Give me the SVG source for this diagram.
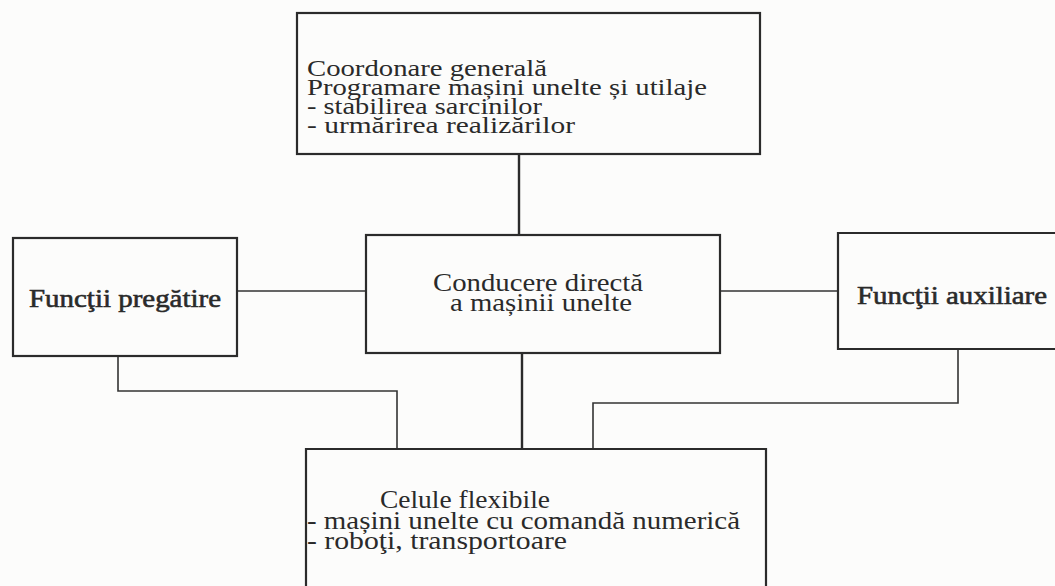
<svg xmlns="http://www.w3.org/2000/svg" width="1055" height="586" viewBox="0 0 1055 586">
  <style>
    .box { fill: none; stroke: #2b2b2b; stroke-width: 2.2; }
    .wire { fill: none; stroke: #333; stroke-width: 1.6; }
    .wire-strong { fill: none; stroke: #2b2b2b; stroke-width: 2.4; }
    text { font-family: "Liberation Serif", "Times New Roman", serif; font-size: 25px; fill: #2a2a2a; }
    .tight { font-size: 23px; }
    .heavy { font-size: 26px; stroke: #2a2a2a; stroke-width: 0.6; }
  </style>
  <rect width="1055" height="586" fill="#fcfcfb"/>

  <!-- connectors -->
  <g id="connectors">
    <path class="wire-strong" d="M519,154 V235"/>
    <path class="wire-strong" d="M522,353 V449"/>
    <path class="wire" d="M237,291 H366"/>
    <path class="wire" d="M720,291 H838"/>
    <path class="wire" d="M118,356 V391 H397 V449"/>
    <path class="wire" d="M958,349 V403 H593 V449"/>
  </g>

  <g id="node-coordonare">
    <rect class="box" x="297" y="13" width="463" height="141"/>
    <text class="tight" x="307" y="76" textLength="240" lengthAdjust="spacingAndGlyphs">Coordonare generală</text>
    <text class="tight" x="307" y="95" textLength="400" lengthAdjust="spacingAndGlyphs">Programare mașini unelte și utilaje</text>
    <text class="tight" x="307" y="114" textLength="235" lengthAdjust="spacingAndGlyphs">- stabilirea sarcinilor</text>
    <text class="tight" x="307" y="133" textLength="268" lengthAdjust="spacingAndGlyphs">-  urmărirea realizărilor</text>
  </g>

  <g id="node-pregatire">
    <rect class="box" x="13" y="238" width="224" height="118"/>
    <text class="heavy" x="29" y="307" textLength="192" lengthAdjust="spacingAndGlyphs">Funcţii pregătire</text>
  </g>

  <g id="node-conducere">
    <rect class="box" x="366" y="235" width="354" height="118"/>
    <text x="433" y="291" textLength="210" lengthAdjust="spacingAndGlyphs">Conducere directă</text>
    <text x="450" y="311" textLength="182" lengthAdjust="spacingAndGlyphs">a mașinii unelte</text>
  </g>

  <g id="node-auxiliare">
    <path class="box" d="M1060,233 H838 V349 H1060"/>
    <text class="heavy" x="857" y="304" textLength="190" lengthAdjust="spacingAndGlyphs">Funcţii auxiliare</text>
  </g>

  <g id="node-celule">
    <path class="box" d="M306,600 V449 H766 V600"/>
    <text x="380" y="508" textLength="170" lengthAdjust="spacingAndGlyphs">Celule flexibile</text>
    <text x="307" y="529" textLength="433" lengthAdjust="spacingAndGlyphs">- mașini unelte cu comandă numerică</text>
    <text x="307" y="549" textLength="260" lengthAdjust="spacingAndGlyphs">- roboţi, transportoare</text>
  </g>
</svg>
